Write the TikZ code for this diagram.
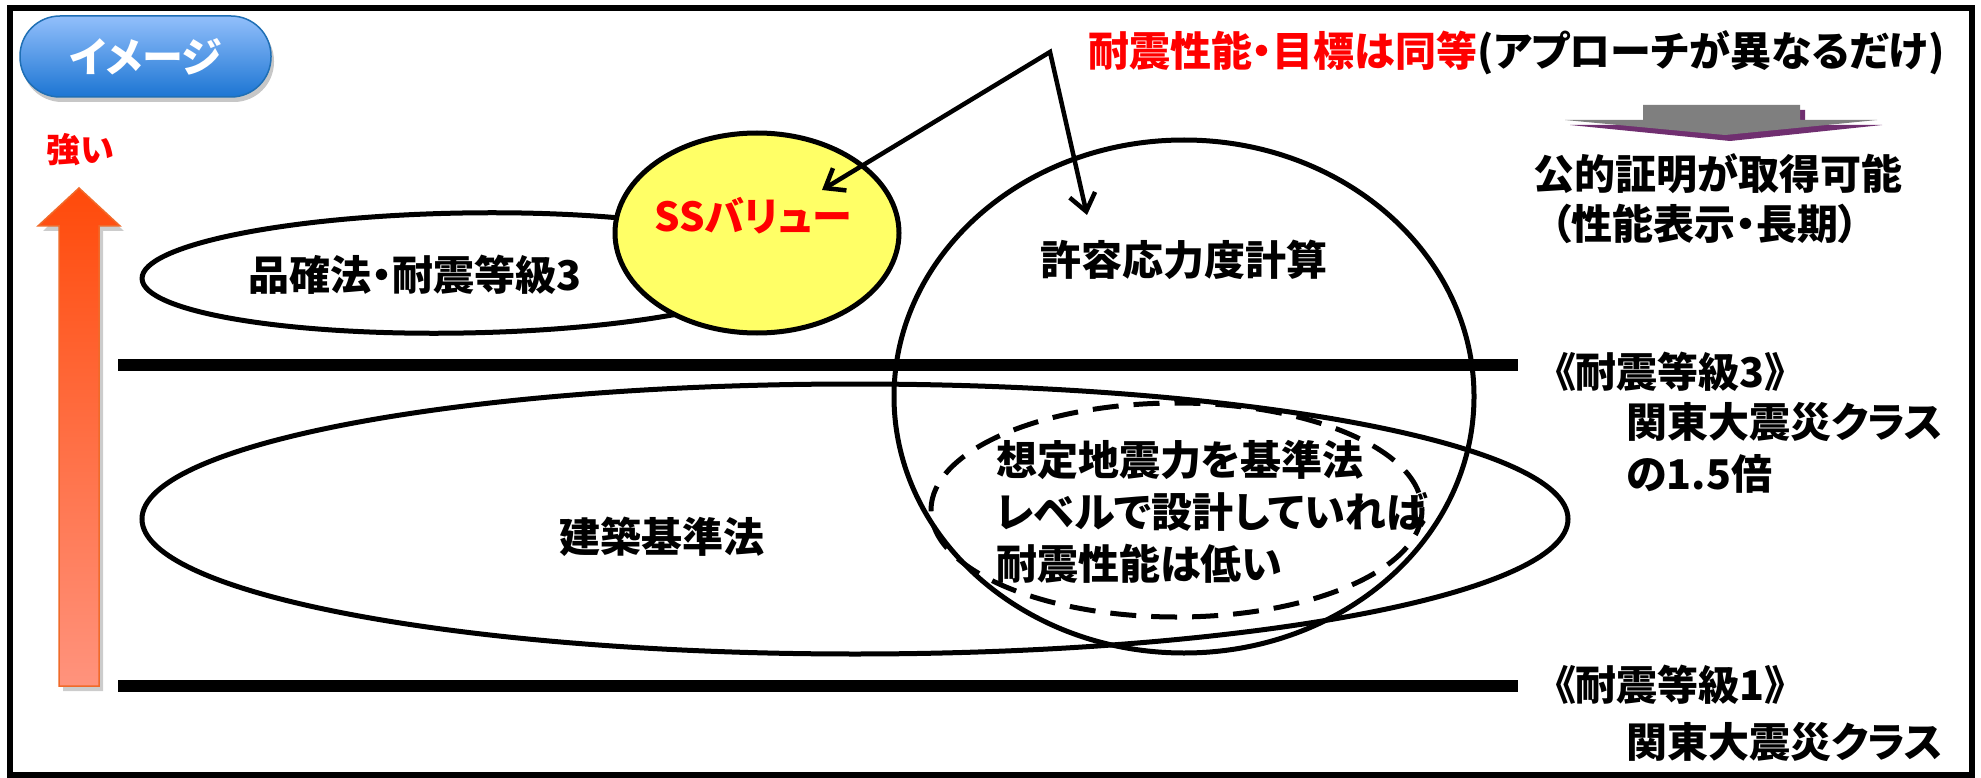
\documentclass[tikz,border=0pt]{standalone}
\usepackage{fontspec}
\setmainfont{Noto Sans CJK JP}[UprightFont={* Black}, BoldFont={* Black}, RawFeature=+palt]
\usetikzlibrary{arrows.meta}
\definecolor{pillTop}{HTML}{92BFFB}
\definecolor{pillBot}{HTML}{1C75D3}
\definecolor{pillBorder}{HTML}{1F6FB5}
\definecolor{arrTop}{HTML}{FF4A0A}
\definecolor{arrBot}{HTML}{FF937D}
\definecolor{arrBorder}{HTML}{F06A2A}
\definecolor{ssYellow}{HTML}{FFFF66}
\definecolor{shPurple}{HTML}{702F70}
\definecolor{blkGray}{HTML}{7F7F7F}
\begin{document}
\begin{tikzpicture}[x=1pt,y=-1pt,
  outline/.style={draw=black, line width=5pt},
  thickline/.style={draw=black, line width=12pt},
  lbl/.style={inner sep=0pt, font=\fontsize{41}{52}\selectfont, text=black},
  redlbl/.style={lbl, text=red},
  pill/.style={rounded corners=40pt, minimum width=251pt, minimum height=81pt,
    top color=pillTop, bottom color=pillBot, draw=pillBorder, line width=1.5pt,
    text=white, font=\fontsize{41}{41}\selectfont, inner sep=0pt},
  conn/.style={draw=black, line width=4.5pt, line join=miter,
    {Straight Barb[length=17pt,width=26pt]}-{Straight Barb[length=17pt,width=26pt]}},
]
\useasboundingbox (0,0) rectangle (1981,778);
\fill[white] (0,0) rectangle (1981,778);

% frame
\draw[line width=6pt] (9.5,8) rectangle (1971.5,775);

% pill
\fill[black, opacity=0.22, rounded corners=40pt] (22,21) rectangle (274,102);
\node[pill] (img) at (145.5,56.5) {イメージ};

% strong label and orange arrow
\node[redlbl, font=\fontsize{34}{34}\selectfont] (strong) at (80,150) {強い};
\fill[black, opacity=0.2] (83,193) -- (124,231) -- (103,231) -- (103,691) -- (63,691) -- (63,231) -- (43,231) -- cycle;
\shadedraw[top color=arrTop, bottom color=arrBot, draw=arrBorder, line width=1.5pt]
  (79,188) -- (120,226) -- (99,226) -- (99,686) -- (59,686) -- (59,226) -- (38,226) -- cycle;

% level lines
\draw[thickline] (118,365) -- (1518,365);
\draw[thickline] (118,686) -- (1518,686);

% ellipses
\draw[outline, rotate around={1:(463,273)}] (463,273) ellipse (321 and 60);
\filldraw[outline, fill=ssYellow] (757,233) ellipse (142 and 100);
\draw[outline] (1184,396.5) ellipse (290 and 256.5);
\draw[outline] (855,519) ellipse (713 and 135);
\draw[draw=black, line width=5pt, dash pattern=on 26pt off 15pt] (1176.5,510) ellipse (245.5 and 107);

% gray block arrow with purple shadow
\fill[shPurple] (1648,110) -- (1805,110) -- (1805,125) -- (1882,125) -- (1730,141) -- (1570,125) -- (1648,125) -- cycle;
\fill[blkGray] (1643,105) -- (1800,105) -- (1800,120) -- (1877,120) -- (1725,135) -- (1565,120) -- (1643,120) -- cycle;

% connectors
\coordinate (apex) at (1050,52);
\coordinate (tipA) at (822,190);
\coordinate (tipB) at (1087,215);
\draw[conn] (tipA) -- (apex) -- (tipB);

% texts
\node[lbl, anchor=west] (title) at (1088,53) {\textcolor{red}{耐震性能・目標は同等}(アプローチが異なるだけ)};
\node[lbl] (koteki) at (1718,174) {公的証明が取得可能};
\node[lbl] (seino) at (1705,224) {（性能表示・長期）};
\node[redlbl, font=\fontsize{40}{40}\selectfont] (ss) at (753,216) {SSバリュー};
\node[lbl] (hinkaku) at (415,275) {品確法・耐震等級3};
\node[lbl] (kyoyo) at (1184,260) {許容応力度計算};
\node[lbl] (kenchiku) at (662,537) {建築基準法};
\node[lbl, anchor=west, align=left] (soutei) at (996,512) {想定地震力を基準法\\レベルで設計していれば\\耐震性能は低い};
\node[lbl, anchor=west] (g3) at (1555,372) {《耐震等級3》};
\node[lbl, anchor=west] (g3a) at (1626,422) {関東大震災クラス};
\node[lbl, anchor=west] (g3b) at (1626,474) {の1.5倍};
\node[lbl, anchor=west] (g1) at (1555,685) {《耐震等級1》};
\node[lbl, anchor=west] (g1a) at (1626,742) {関東大震災クラス};
\end{tikzpicture}
\end{document}
